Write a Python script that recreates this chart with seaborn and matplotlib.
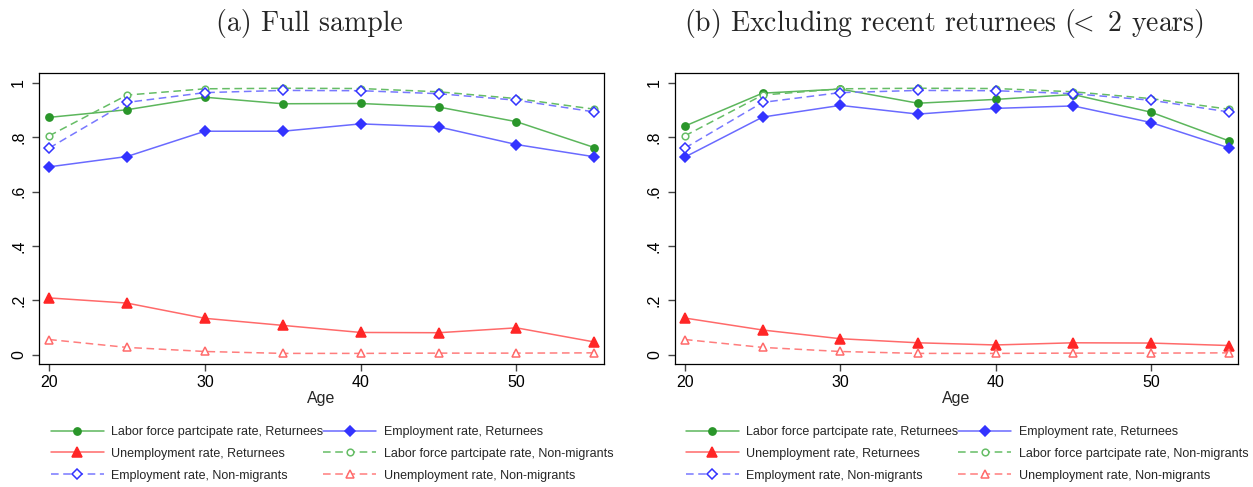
import matplotlib
matplotlib.use("Agg")
import matplotlib.pyplot as plt
import seaborn as sns
import pandas as pd
from matplotlib.lines import Line2D

# ---------------- data ----------------
age = [20, 25, 30, 35, 40, 45, 50, 55]

# (a) Full sample
lf_ret_a = [0.873, 0.901, 0.947, 0.923, 0.924, 0.911, 0.857, 0.762]
emp_ret_a = [0.691, 0.729, 0.822, 0.822, 0.849, 0.838, 0.773, 0.728]
unemp_ret_a = [0.209, 0.190, 0.134, 0.108, 0.082, 0.081, 0.099, 0.047]

# (b) Excluding recent returnees
lf_ret_b = [0.841, 0.962, 0.977, 0.925, 0.939, 0.957, 0.892, 0.787]
emp_ret_b = [0.727, 0.874, 0.917, 0.885, 0.906, 0.915, 0.854, 0.761]
unemp_ret_b = [0.135, 0.091, 0.059, 0.044, 0.036, 0.044, 0.043, 0.034]

# Non-migrants (same in both panels)
lf_nm = [0.805, 0.955, 0.978, 0.980, 0.979, 0.967, 0.942, 0.903]
emp_nm = [0.760, 0.928, 0.964, 0.972, 0.971, 0.960, 0.936, 0.893]
unemp_nm = [0.056, 0.027, 0.012, 0.005, 0.005, 0.006, 0.006, 0.007]

titles = ["(a) Full sample", r"(b) Excluding recent returnees ($\!\!<$ 2 years)"]
ytick_vals = [0, 0.2, 0.4, 0.6, 0.8, 1.0]
ytick_labels = ["0", ".2", ".4", ".6", ".8", "1"]
xtick_vals = [20, 30, 40, 50]
labels = ["Labor force partcipate rate, Returnees", "Employment rate, Returnees",
          "Unemployment rate, Returnees", "Labor force partcipate rate, Non-migrants",
          "Employment rate, Non-migrants", "Unemployment rate, Non-migrants"]

# ---------------- style ----------------
sns.set_theme(style="white")
plt.rcParams["font.family"] = ["Liberation Sans", "DejaVu Sans"]
plt.rcParams["mathtext.fontset"] = "cm"

W, H = 1253, 487
fig = plt.figure(figsize=(W / 100, H / 100), dpi=100)
fig.patch.set_facecolor("white")

G_M, G_L, G_L2 = "#2a962a", "#5cb65c", "#66bd66"
B_M, B_L, B_L2 = "#3333ff", "#6a6aff", "#7878ff"
R_M, R_L, R_L2 = "#ff2626", "#ff6a6a", "#ff7d7d"
DASH = (0, (5, 3))

styles = [
    dict(color=G_L, linestyle="-", marker="o", markersize=5.2, markerfacecolor=G_M, markeredgecolor=G_M),
    dict(color=B_L, linestyle="-", marker="D", markersize=5.5, markerfacecolor=B_M, markeredgecolor=B_M),
    dict(color=R_L, linestyle="-", marker="^", markersize=6.5, markerfacecolor=R_M, markeredgecolor=R_M),
    dict(color=G_L2, linestyle=DASH, marker="o", markersize=4.8, markerfacecolor="white", markeredgecolor=G_L2),
    dict(color=B_L2, linestyle=DASH, marker="D", markersize=5.5, markerfacecolor="white", markeredgecolor=B_M),
    dict(color=R_L2, linestyle=DASH, marker="^", markersize=6.2, markerfacecolor="white", markeredgecolor=R_L),
]

panels = [
    [lf_ret_a, emp_ret_a, unemp_ret_a, lf_nm, emp_nm, unemp_nm],
    [lf_ret_b, emp_ret_b, unemp_ret_b, lf_nm, emp_nm, unemp_nm],
]

axes_px = [(38.7, 604.0), (674.5, 1238.3)]
y_top, y_bot = 73.3, 364.0
title_x = [309, 944]
legend_x = [51, 686]

for i, (series, (x0, x1)) in enumerate(zip(panels, axes_px)):
    ax = fig.add_axes([x0 / W, (H - y_bot) / H, (x1 - x0) / W, (y_bot - y_top) / H])
    for vals, st in zip(series, styles):
        df = pd.DataFrame({"age": age, "v": vals})
        sns.lineplot(data=df, x="age", y="v", ax=ax, linewidth=1.1,
                     markeredgewidth=1.1, legend=False, **st)
    ax.set_xlim(19.33, 55.62)
    ax.set_ylim(-0.034, 1.035)
    ax.set_xticks(xtick_vals)
    ax.set_xticklabels([str(v) for v in xtick_vals], fontsize=11.5)
    ax.set_yticks(ytick_vals)
    ax.set_yticklabels(ytick_labels, fontsize=11.5, rotation=90, va="center")
    ax.tick_params(axis="both", which="major", direction="out", length=5,
                   width=1, color="#444444", labelcolor="black", bottom=True, left=True)
    ax.tick_params(axis="y", pad=4)
    ax.tick_params(axis="x", pad=3)
    for sp in ax.spines.values():
        sp.set_visible(True)
        sp.set_color("black")
        sp.set_linewidth(0.9)
    ax.set_ylabel("")
    ax.set_xlabel("Age", fontsize=11.5)
    ax.xaxis.set_label_coords(0.5, -(398 - y_bot) / (y_bot - y_top))
    ax.xaxis.label.set_va("center")
    ax.grid(False)

    fig.text(title_x[i] / W, 1 - 23 / H, titles[i], ha="center", va="center",
             fontsize=20, family="cmr10")

    handles = [Line2D([], [], linewidth=1.1, markeredgewidth=1.1, **st) for st in styles]
    order = [0, 2, 4, 1, 3, 5]
    fig.legend([handles[k] for k in order], [labels[k] for k in order], ncol=2,
               loc="upper left", bbox_to_anchor=(legend_x[i] / W, 1 - 426 / H),
               frameon=False, fontsize=9, handlelength=4.2, handletextpad=0.62,
               columnspacing=0.0, labelspacing=0.78, borderpad=0, borderaxespad=0,
               numpoints=1)

fig.savefig("out.png", dpi=100, facecolor="white")
